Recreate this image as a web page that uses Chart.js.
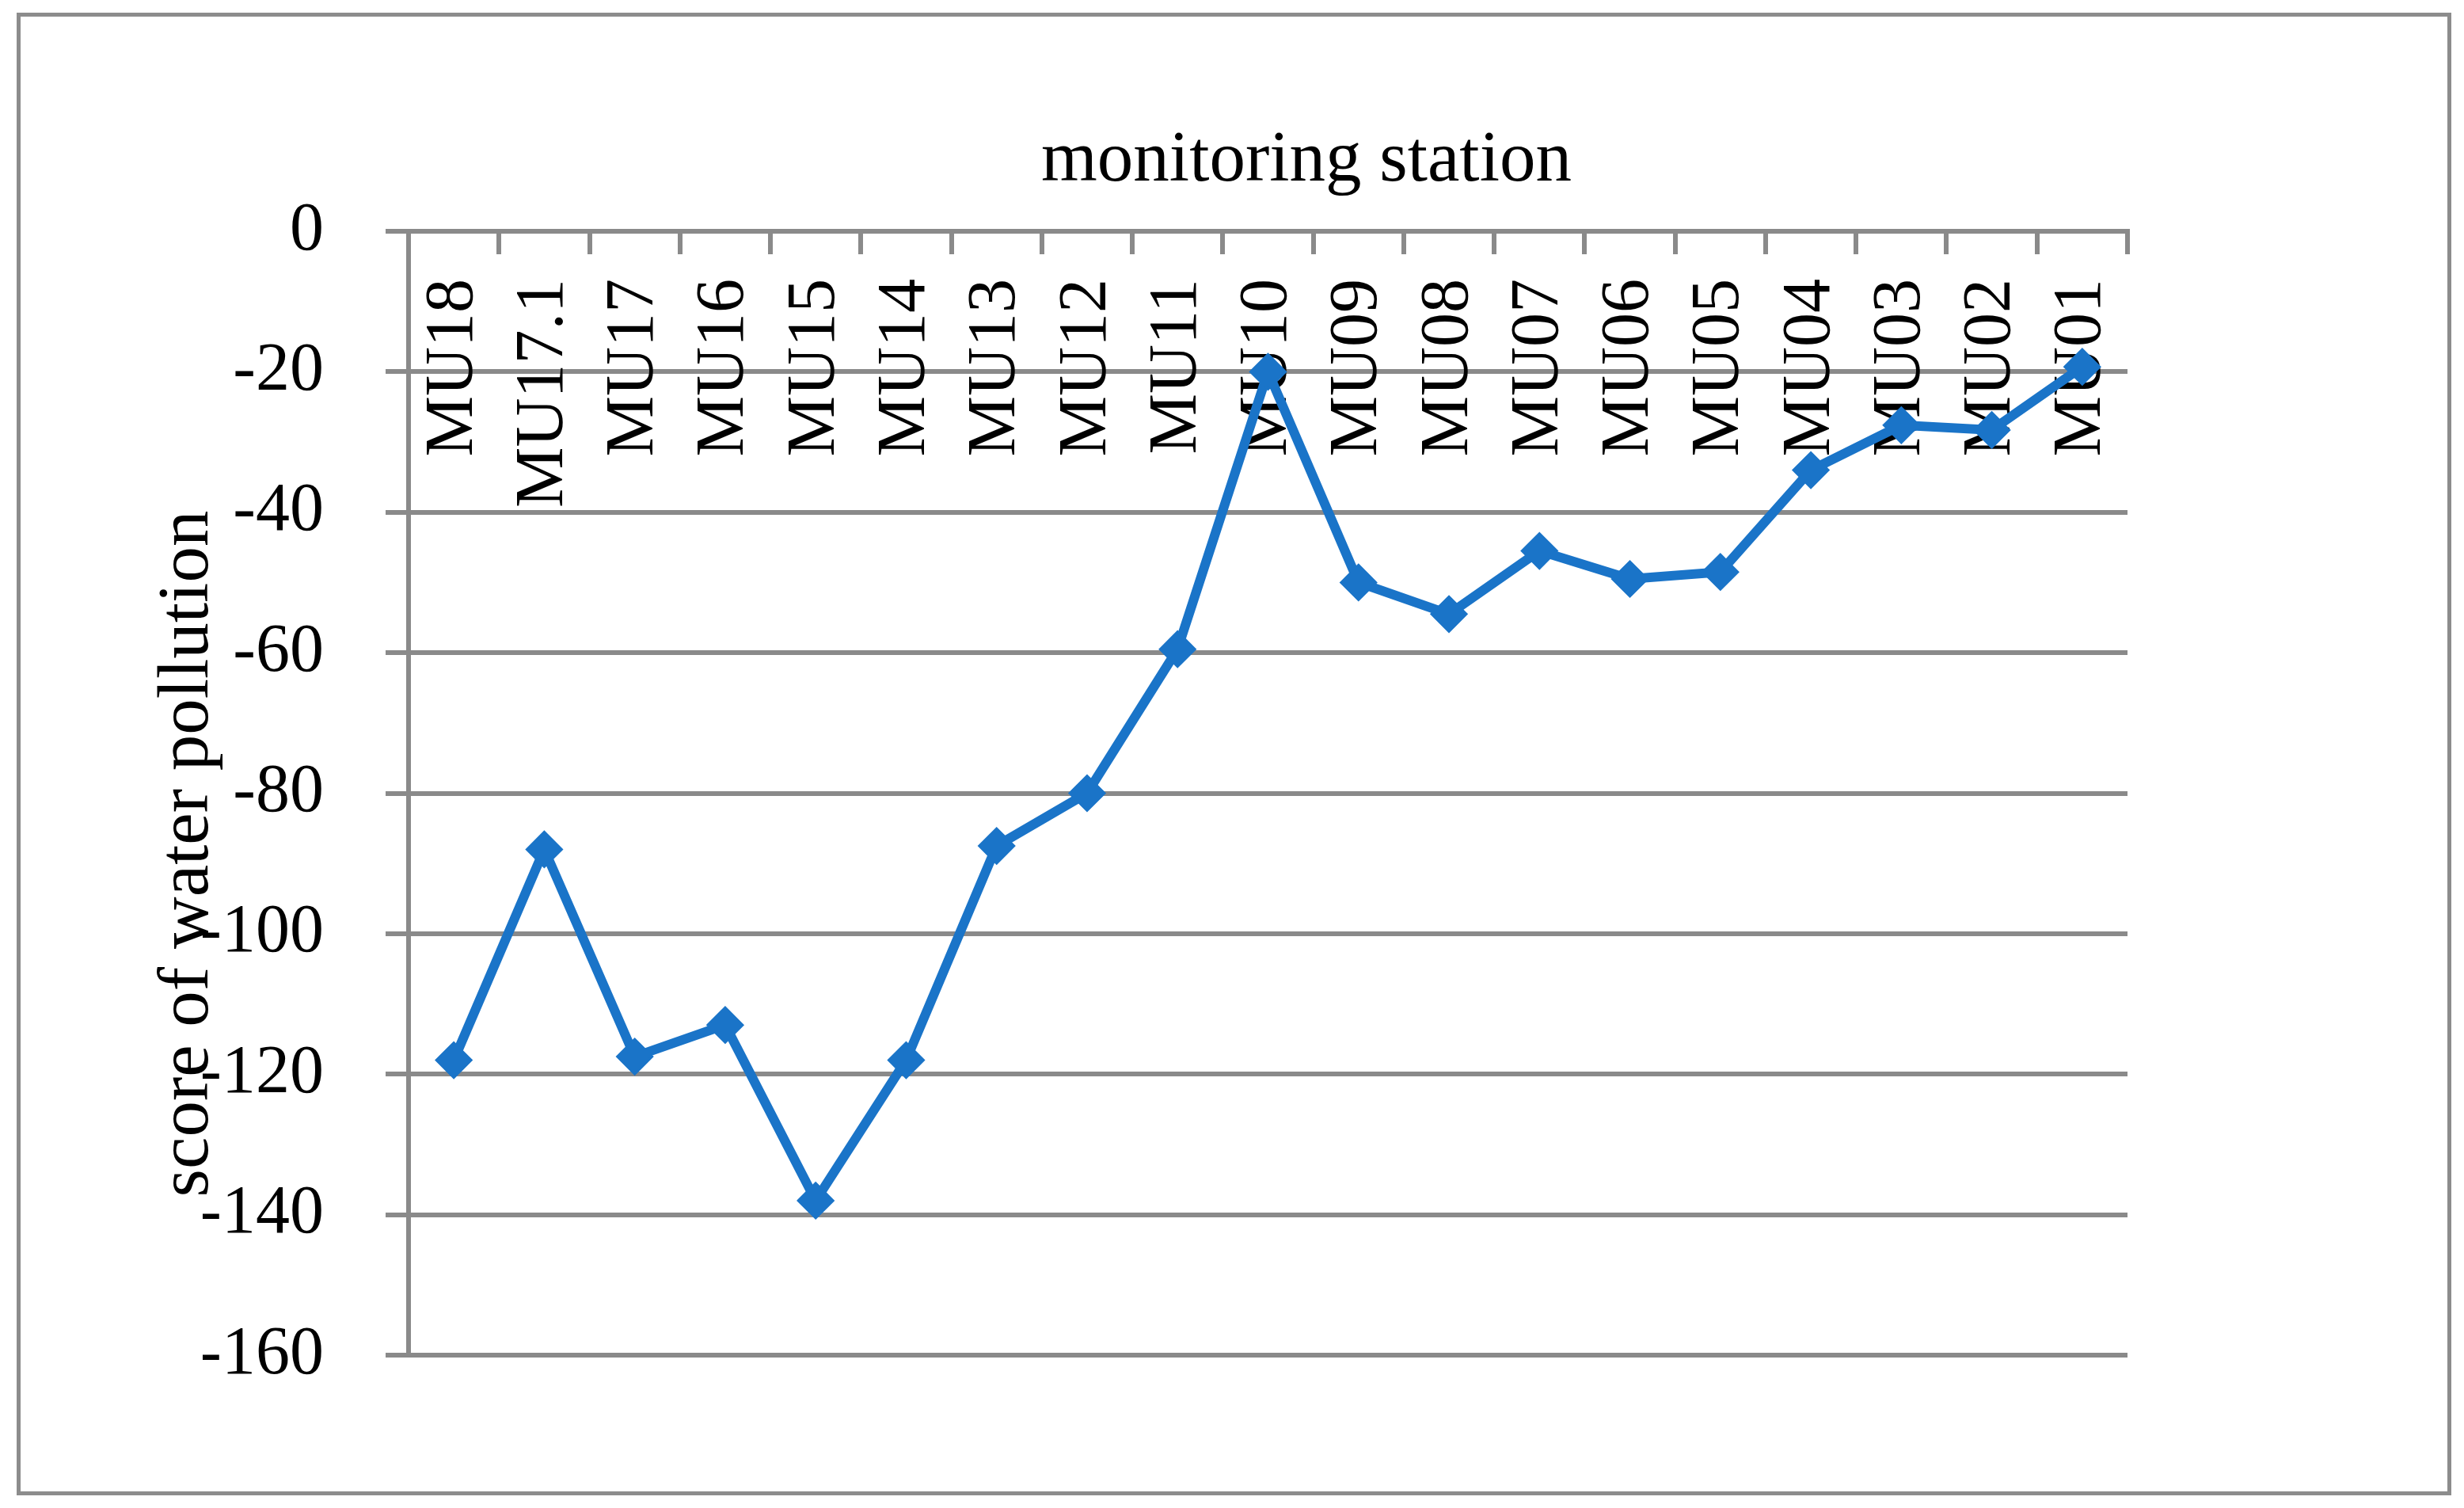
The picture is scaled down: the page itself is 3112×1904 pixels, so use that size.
<!DOCTYPE html>
<html>
<head>
<meta charset="utf-8">
<script src="https://cdn.jsdelivr.net/npm/chart.js@4.4.1/dist/chart.umd.min.js"></script>
<style>
html, body { margin: 0; padding: 0; background: #fff; }
#wrap { position: relative; width: 3112px; height: 1904px; }
#chart1 { position: absolute; left: 0; top: 0; }
#frame { position: absolute; left: 21px; top: 16px; width: 3075px; height: 1872px; box-sizing: border-box; border: 5px solid #8c8c8c; pointer-events: none; }
</style>
</head>
<body>
<div id="wrap">
    <canvas id="chart1" width="3112" height="1904"></canvas>
    <div id="frame"></div>
</div>
<script>
// stations along the river
var stations = ['MU18', 'MU17.1', 'MU17', 'MU16', 'MU15', 'MU14', 'MU13', 'MU12', 'MU11', 'MU10',
                'MU09', 'MU08', 'MU07', 'MU06', 'MU05', 'MU04', 'MU03', 'MU02', 'MU01'];
var scores = [-118, -88, -117.5, -113, -138, -118, -87.5, -80, -59.5, -20,
              -50, -54.5, -45.5, -49.5, -48.5, -34, -27.6, -28.3, -19.3];
var yMin = -160;
var yMax = 0;
var yStep = 20;
var xTitle = 'monitoring station';
var yTitle = 'score of water pollution';

var blue = '#1a74c8';
var gray = '#8a8a8a';
var serif = 'Liberation Serif';

// axis titles sit where the original put them (y title overlaps the tick labels)
var titlesPlugin = {
    id: 'titles',
    afterDraw: function(chart) {
        var ctx = chart.ctx;
        ctx.save();
        ctx.fillStyle = '#000';
        ctx.font = '91px "' + serif + '"';
        ctx.textAlign = 'center';
        ctx.textBaseline = 'middle';
        ctx.fillText(xTitle, 1650, 204);
        ctx.translate(238, 1078);
        ctx.rotate(-Math.PI / 2);
        ctx.fillText(yTitle, 0, 0);
        ctx.restore();
    }
};

function makeLineChart() {
    var ctx1 = document.getElementById('chart1').getContext('2d');
    var chart1 = new Chart(ctx1, {
        type: 'line',
        data: {
            labels: stations,
            datasets: [{
                data: scores,
                borderColor: blue,
                backgroundColor: blue,
                borderWidth: 12,
                tension: 0,
                fill: false,
                pointStyle: 'rectRot',
                pointRadius: 22,
                pointBorderWidth: 3,
                pointBackgroundColor: blue,
                pointBorderColor: blue
            }]
        },
        options: {
            responsive: false,
            animation: false,
            devicePixelRatio: 1,
            layout: { padding: { left: 256, right: 425, top: 292, bottom: 193 } },
            plugins: {
                legend: { display: false },
                title: { display: false },
                tooltip: { enabled: false }
            },
            scales: {
                x: {
                    type: 'category',
                    position: { y: 0 },
                    offset: true,
                    z: 1,
                    grid: { offset: true, drawOnChartArea: false, tickLength: 26, color: gray, lineWidth: 6 },
                    border: { display: true, color: gray, width: 6 },
                    ticks: {
                        autoSkip: false,
                        minRotation: 90,
                        maxRotation: 90,
                        padding: 34,
                        color: '#000',
                        font: { family: serif, size: 86 }
                    }
                },
                y: {
                    position: 'left',
                    min: yMin,
                    max: yMax,
                    afterFit: function(scale) { scale.width = 260; },
                    grid: { color: gray, lineWidth: 6, tickLength: 29 },
                    border: { display: true, color: gray, width: 6 },
                    ticks: {
                        stepSize: yStep,
                        padding: 78,
                        color: '#000',
                        font: { family: serif, size: 86 }
                    }
                }
            }
        },
        plugins: [titlesPlugin]
    });
}

window.onload = function() {
    makeLineChart();
};
</script>
</body>
</html>
